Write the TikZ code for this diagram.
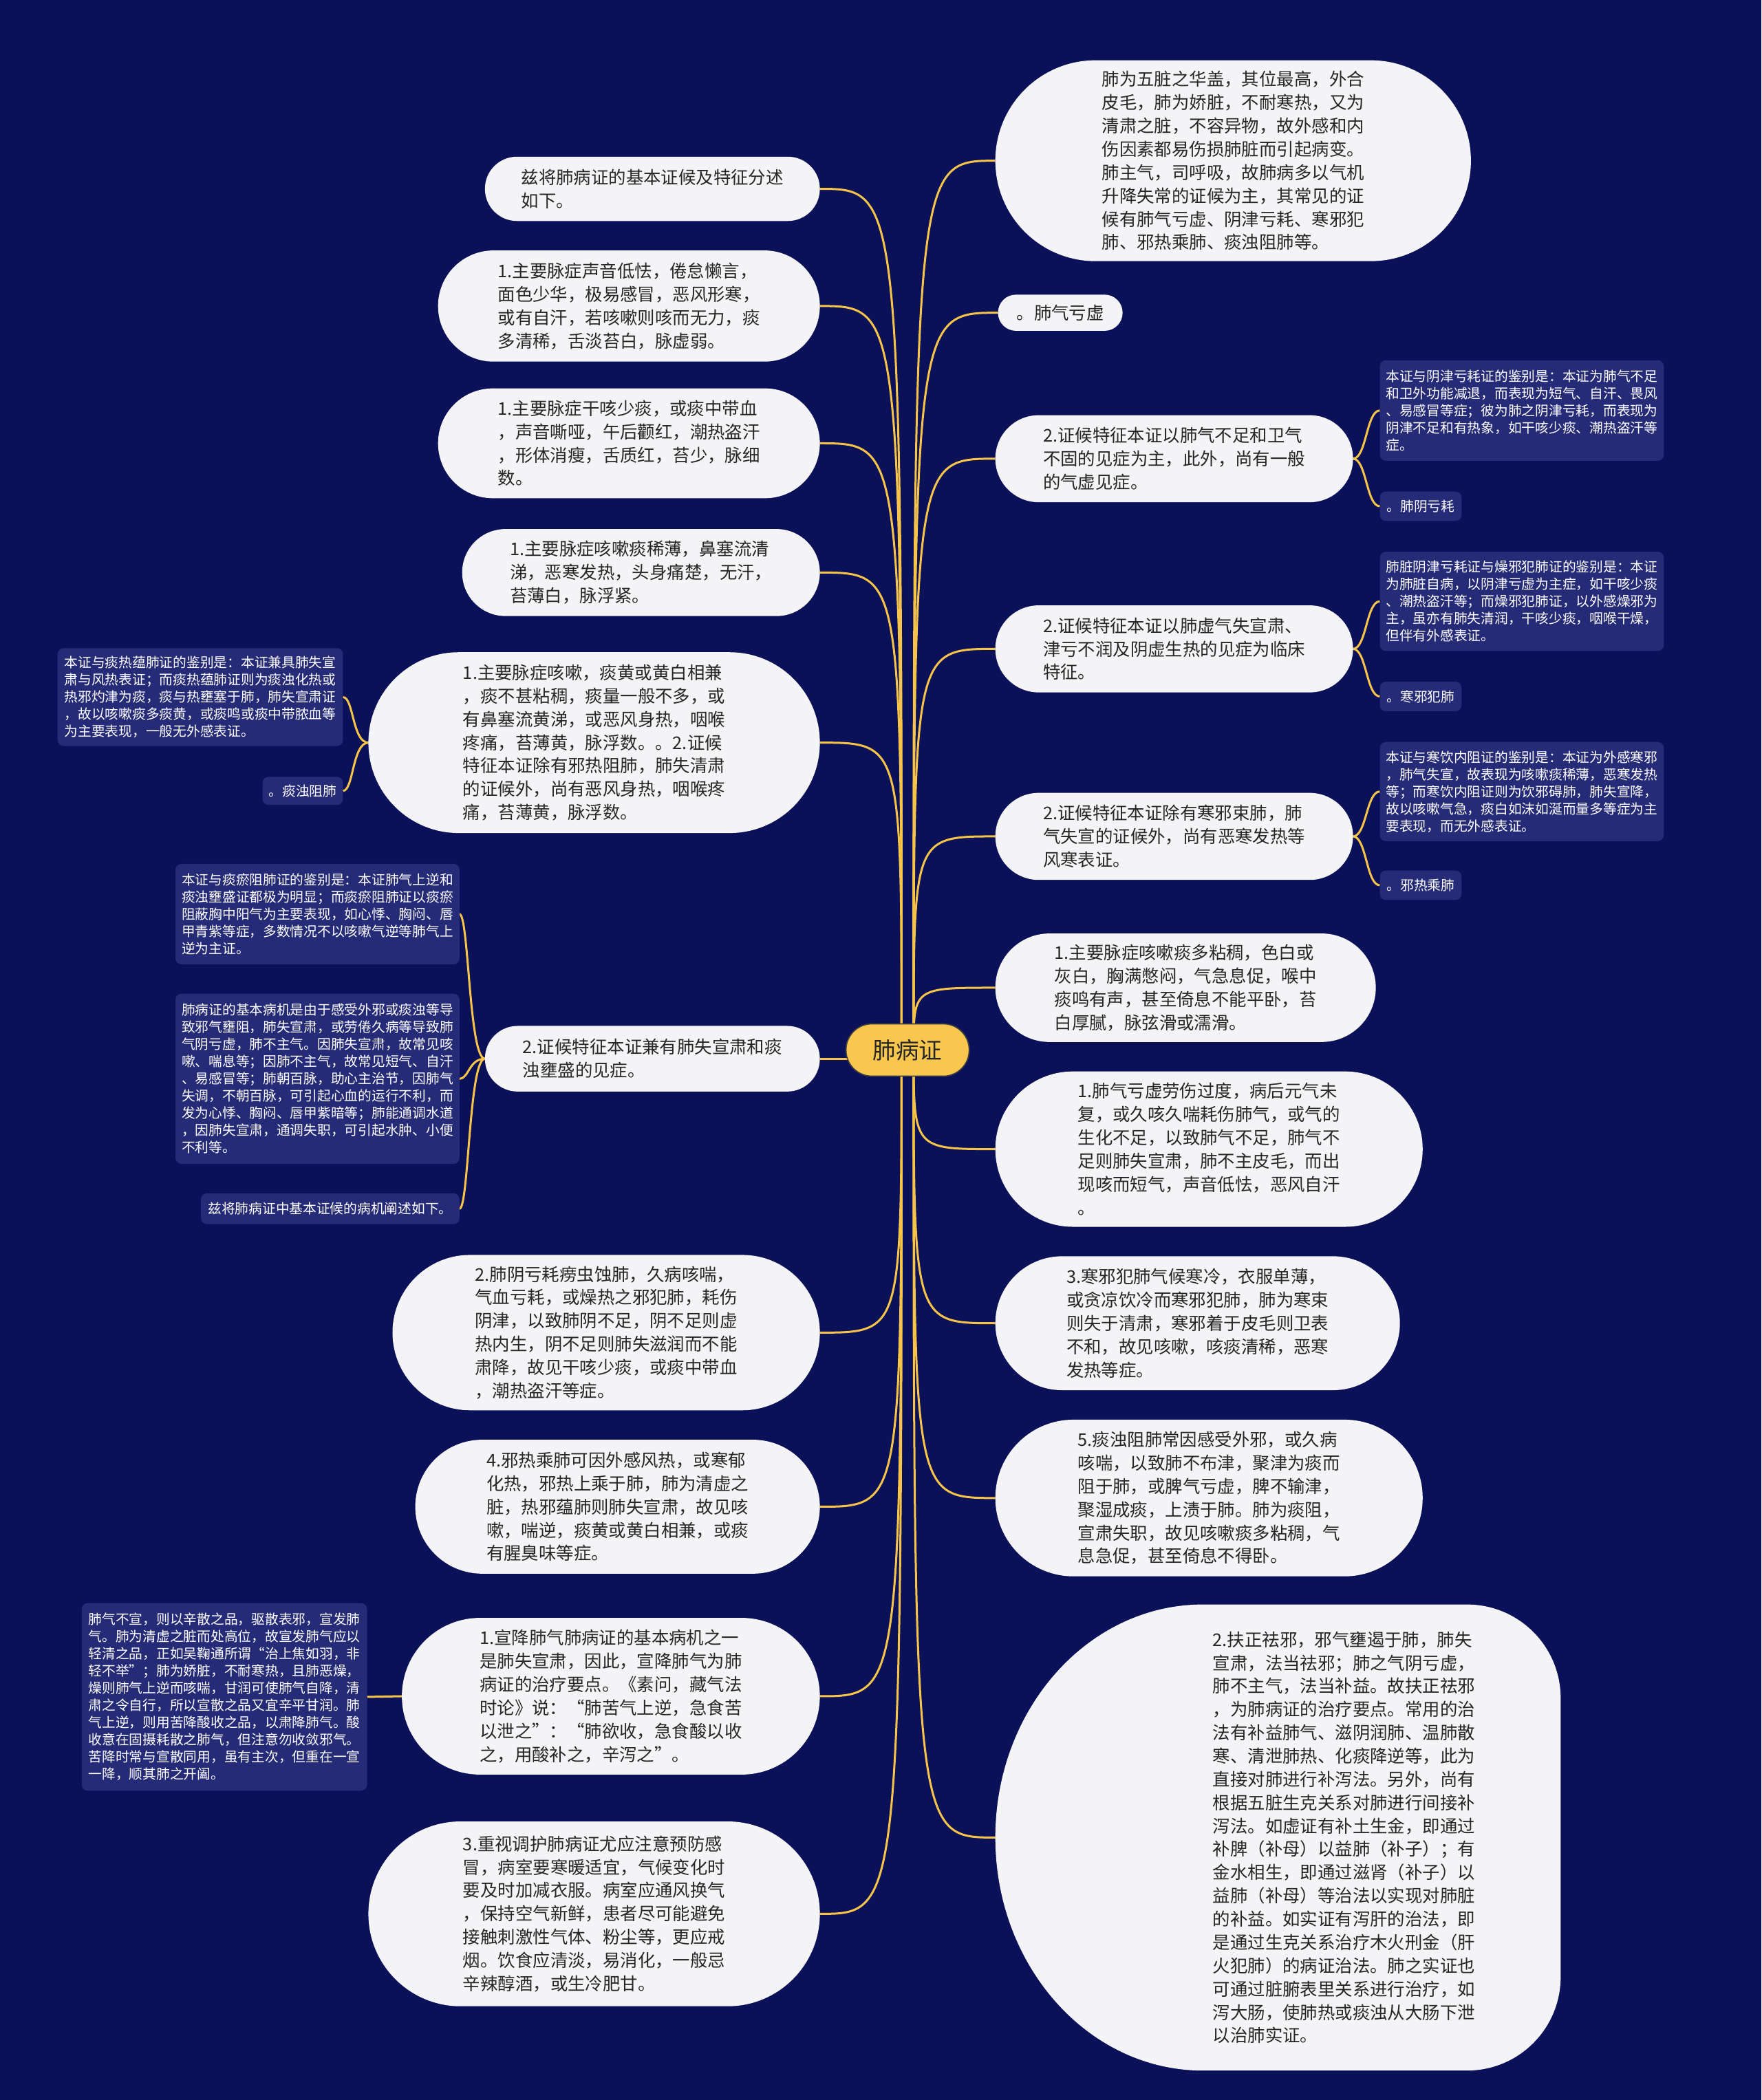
\documentclass[tikz,border=0pt]{standalone}
\usepackage{fontspec}
\newfontfamily\cjk{Noto Sans CJK SC}
\usetikzlibrary{calc}
\definecolor{bgnavy}{RGB}{11,17,88}
\definecolor{bubfill}{RGB}{244,244,246}
\definecolor{bubtext}{RGB}{38,38,38}
\definecolor{dkfill}{RGB}{38,43,120}
\definecolor{gold}{RGB}{245,196,72}
\definecolor{rootfill}{RGB}{250,199,78}
\pgfdeclarelayer{bg}
\pgfsetlayers{bg,main}
\newcommand\bigf{\cjk\fontsize{7.62pt}{10.16pt}\selectfont}
\newcommand\smf{\cjk\fontsize{5.92pt}{7.5pt}\selectfont}
\newcommand\rootf{\cjk\fontsize{10.1pt}{12pt}\selectfont}
\tikzset{
  bigbox/.style={rectangle, fill=bubfill, inner sep=0pt, outer sep=0pt},
  dkbox/.style={rectangle, fill=dkfill, inner sep=0pt, outer sep=0pt, rounded corners=2.6pt},
  bigtext/.style={inner sep=0pt, align=left, font=\bigf, text=bubtext},
  smtext/.style={inner sep=0pt, align=left, font=\smf, text=white},
  link/.style={draw=gold, line width=0.9pt},
  rootnode/.style={rectangle, fill=rootfill, draw=black!75, line width=0.5pt,
    minimum width=53.7pt, minimum height=22.8pt, rounded corners=11.3pt,
    inner sep=0pt, font=\rootf, text=bubtext}
}
% #1 text style, #2 name, #3 x1, #4 y1, #5 x2, #6 y2, #7 text
\newcommand\bub[7]{%
  \pgfmathsetmacro\mybw{(#5-#3)*0.584}%
  \pgfmathsetmacro\mybh{(#6-#4)*0.584}%
  \pgfmathsetmacro\mybr{min(\mybw,\mybh)/2-0.05}%
  \node[bigbox, minimum width=\mybw pt, minimum height=\mybh pt, rounded corners=\mybr pt] (#2) at ({(#3+#5)/2},{(#4+#6)/2}) {};
  \node[#1] (#2t) at (#2.center) {#7};
}
% #1 name, #2 x1, #3 y1, #4 x2, #5 y2, #6 text
\newcommand\dkb[6]{%
  \pgfmathsetmacro\mybw{(#4-#2)*0.584}%
  \pgfmathsetmacro\mybh{(#5-#3)*0.584}%
  \node[dkbox, minimum width=\mybw pt, minimum height=\mybh pt] (#1) at ({(#2+#4)/2},{(#3+#5)/2}) {};
  \node[smtext] (#1t) at (#1.center) {#6};
}
\begin{document}
\begin{tikzpicture}[x=0.584pt,y=-0.584pt]
\useasboundingbox (0,0) rectangle (1315,1568);

% ---------- root ----------
\node[rootnode] (root) at (677.5,784) {肺病证};

% ---------- right side ----------
\bub{bigtext}{R1}{743}{45}{1098}{195}{肺为五脏之华盖，其位最高，外合\\皮毛，肺为娇脏，不耐寒热，又为\\清肃之脏，不容异物，故外感和内\\伤因素都易伤损肺脏而引起病变。\\肺主气，司呼吸，故肺病多以气机\\升降失常的证候为主，其常见的证\\候有肺气亏虚、阴津亏耗、寒邪犯\\肺、邪热乘肺、痰浊阻肺等。}
\bub{bigtext}{R2}{745}{220}{838}{247}{。肺气亏虚}
\bub{bigtext}{R3}{743}{310}{1010}{375}{2.证候特征本证以肺气不足和卫气\\不固的见症为主，此外，尚有一般\\的气虚见症。}
\dkb{R3a}{1030}{269}{1242}{344}{本证与阴津亏耗证的鉴别是：本证为肺气不足\\和卫外功能减退，而表现为短气、自汗、畏风\\、易感冒等症；彼为肺之阴津亏耗，而表现为\\阴津不足和有热象，如干咳少痰、潮热盗汗等\\症。}
\dkb{R3b}{1030}{367}{1091}{389}{。肺阴亏耗}
\bub{bigtext}{R4}{743}{452}{1010}{517}{2.证候特征本证以肺虚气失宣肃、\\津亏不润及阴虚生热的见症为临床\\特征。}
\dkb{R4a}{1030}{412}{1242}{486}{肺脏阴津亏耗证与燥邪犯肺证的鉴别是：本证\\为肺脏自病，以阴津亏虚为主症，如干咳少痰\\、潮热盗汗等；而燥邪犯肺证，以外感燥邪为\\主，虽亦有肺失清润，干咳少痰，咽喉干燥，\\但伴有外感表证。}
\dkb{R4b}{1030}{509}{1091}{531}{。寒邪犯肺}
\bub{bigtext}{R5}{743}{592}{1010}{657}{2.证候特征本证除有寒邪束肺，肺\\气失宣的证候外，尚有恶寒发热等\\风寒表证。}
\dkb{R5a}{1030}{554}{1242}{628}{本证与寒饮内阻证的鉴别是：本证为外感寒邪\\，肺气失宣，故表现为咳嗽痰稀薄，恶寒发热\\等；而寒饮内阻证则为饮邪碍肺，肺失宣降，\\故以咳嗽气急，痰白如沫如涎而量多等症为主\\要表现，而无外感表证。}
\dkb{R5b}{1030}{650}{1091}{672}{。邪热乘肺}
\bub{bigtext}{R6}{743}{697}{1027}{778}{1.主要脉症咳嗽痰多粘稠，色白或\\灰白，胸满憋闷，气急息促，喉中\\痰鸣有声，甚至倚息不能平卧，苔\\白厚腻，脉弦滑或濡滑。}
\bub{bigtext}{R7}{743}{800}{1062}{916}{1.肺气亏虚劳伤过度，病后元气未\\复，或久咳久喘耗伤肺气，或气的\\生化不足，以致肺气不足，肺气不\\足则肺失宣肃，肺不主皮毛，而出\\现咳而短气，声音低怯，恶风自汗\\。}
\bub{bigtext}{R8}{743}{938}{1045}{1038}{3.寒邪犯肺气候寒冷，衣服单薄，\\或贪凉饮冷而寒邪犯肺，肺为寒束\\则失于清肃，寒邪着于皮毛则卫表\\不和，故见咳嗽，咳痰清稀，恶寒\\发热等症。}
\bub{bigtext}{R9}{743}{1060}{1062}{1177}{5.痰浊阻肺常因感受外邪，或久病\\咳喘，以致肺不布津，聚津为痰而\\阻于肺，或脾气亏虚，脾不输津，\\聚湿成痰，上渍于肺。肺为痰阻，\\宣肃失职，故见咳嗽痰多粘稠，气\\息急促，甚至倚息不得卧。}
% big asymmetric bubble
\node[rectangle, minimum width=246.4pt, minimum height=203.2pt, inner sep=0pt, outer sep=0pt] (R10) at (954,1372) {};
\fill[bubfill] (898,1198) .. controls (812.4,1198) and (743,1275.9) .. (743,1372)
  .. controls (743,1468.1) and (812.4,1546) .. (898,1546)
  -- (1095,1546) .. controls (1133.7,1546) and (1165,1514.7) .. (1165,1476)
  -- (1165,1268) .. controls (1165,1229.3) and (1133.7,1198) .. (1095,1198) -- cycle;
\node[bigtext, anchor=west] (R10t) at (905,1372) {2.扶正祛邪，邪气壅遏于肺，肺失\\宣肃，法当祛邪；肺之气阴亏虚，\\肺不主气，法当补益。故扶正祛邪\\，为肺病证的治疗要点。常用的治\\法有补益肺气、滋阴润肺、温肺散\\寒、清泄肺热、化痰降逆等，此为\\直接对肺进行补泻法。另外，尚有\\根据五脏生克关系对肺进行间接补\\泻法。如虚证有补土生金，即通过\\补脾（补母）以益肺（补子）；有\\金水相生，即通过滋肾（补子）以\\益肺（补母）等治法以实现对肺脏\\的补益。如实证有泻肝的治法，即\\是通过生克关系治疗木火刑金（肝\\火犯肺）的病证治法。肺之实证也\\可通过脏腑表里关系进行治疗，如\\泻大肠，使肺热或痰浊从大肠下泄\\以治肺实证。};

% ---------- left side ----------
\bub{bigtext}{L1}{362}{117}{612}{165}{兹将肺病证的基本证候及特征分述\\如下。}
\bub{bigtext}{L2}{327}{187}{612}{270}{1.主要脉症声音低怯，倦怠懒言，\\面色少华，极易感冒，恶风形寒，\\或有自汗，若咳嗽则咳而无力，痰\\多清稀，舌淡苔白，脉虚弱。}
\bub{bigtext}{L3}{327}{290}{612}{372}{1.主要脉症干咳少痰，或痰中带血\\，声音嘶哑，午后颧红，潮热盗汗\\，形体消瘦，舌质红，苔少，脉细\\数。}
\bub{bigtext}{L4}{345}{395}{612}{460}{1.主要脉症咳嗽痰稀薄，鼻塞流清\\涕，恶寒发热，头身痛楚，无汗，\\苔薄白，脉浮紧。}
\bub{bigtext}{L5}{275}{487}{612}{622}{1.主要脉症咳嗽，痰黄或黄白相兼\\，痰不甚粘稠，痰量一般不多，或\\有鼻塞流黄涕，或恶风身热，咽喉\\疼痛，苔薄黄，脉浮数。。2.证候\\特征本证除有邪热阻肺，肺失清肃\\的证候外，尚有恶风身热，咽喉疼\\痛，苔薄黄，脉浮数。}
\dkb{L5a}{43}{484}{256}{557}{本证与痰热蕴肺证的鉴别是：本证兼具肺失宣\\肃与风热表证；而痰热蕴肺证则为痰浊化热或\\热邪灼津为痰，痰与热壅塞于肺，肺失宣肃证\\，故以咳嗽痰多痰黄，或痰鸣或痰中带脓血等\\为主要表现，一般无外感表证。}
\dkb{L5b}{196}{580}{256}{601}{。痰浊阻肺}
\bub{bigtext}{L6}{362}{766}{612}{815}{2.证候特征本证兼有肺失宣肃和痰\\浊壅盛的见症。}
\dkb{L6a}{131}{645}{343}{720}{本证与痰瘀阻肺证的鉴别是：本证肺气上逆和\\痰浊壅盛证都极为明显；而痰瘀阻肺证以痰瘀\\阻蔽胸中阳气为主要表现，如心悸、胸闷、唇\\甲青紫等症，多数情况不以咳嗽气逆等肺气上\\逆为主证。}
\dkb{L6b}{131}{742}{343}{869}{肺病证的基本病机是由于感受外邪或痰浊等导\\致邪气壅阻，肺失宣肃，或劳倦久病等导致肺\\气阴亏虚，肺不主气。因肺失宣肃，故常见咳\\嗽、喘息等；因肺不主气，故常见短气、自汗\\、易感冒等；肺朝百脉，助心主治节，因肺气\\失调，不朝百脉，可引起心血的运行不利，而\\发为心悸、胸闷、唇甲紫暗等；肺能通调水道\\，因肺失宣肃，通调失职，可引起水肿、小便\\不利等。}
\dkb{L6c}{150}{891}{343}{914}{兹将肺病证中基本证候的病机阐述如下。}
\bub{bigtext}{L7}{293}{937}{612}{1053}{2.肺阴亏耗痨虫蚀肺，久病咳喘，\\气血亏耗，或燥热之邪犯肺，耗伤\\阴津，以致肺阴不足，阴不足则虚\\热内生，阴不足则肺失滋润而不能\\肃降，故见干咳少痰，或痰中带血\\，潮热盗汗等症。}
\bub{bigtext}{L8}{310}{1075}{612}{1175}{4.邪热乘肺可因外感风热，或寒郁\\化热，邪热上乘于肺，肺为清虚之\\脏，热邪蕴肺则肺失宣肃，故见咳\\嗽，喘逆，痰黄或黄白相兼，或痰\\有腥臭味等症。}
\bub{bigtext}{L9}{300}{1208}{612}{1325}{1.宣降肺气肺病证的基本病机之一\\是肺失宣肃，因此，宣降肺气为肺\\病证的治疗要点。《素问，藏气法\\时论》说：“肺苦气上逆，急食苦\\以泄之”：“肺欲收，急食酸以收\\之，用酸补之，辛泻之”。}
\dkb{L9a}{61}{1197}{274}{1337}{肺气不宣，则以辛散之品，驱散表邪，宣发肺\\气。肺为清虚之脏而处高位，故宣发肺气应以\\轻清之品，正如吴鞠通所谓“治上焦如羽，非\\轻不举”；肺为娇脏，不耐寒热，且肺恶燥，\\燥则肺气上逆而咳喘，甘润可使肺气自降，清\\肃之令自行，所以宣散之品又宜辛平甘润。肺\\气上逆，则用苦降酸收之品，以肃降肺气。酸\\收意在固摄耗散之肺气，但注意勿收敛邪气。\\苦降时常与宣散同用，虽有主次，但重在一宣\\一降，顺其肺之开阖。}
\bub{bigtext}{L10}{275}{1360}{612}{1498}{3.重视调护肺病证尤应注意预防感\\冒，病室要寒暖适宜，气候变化时\\要及时加减衣服。病室应通风换气\\，保持空气新鲜，患者尽可能避免\\接触刺激性气体、粉尘等，更应戒\\烟。饮食应清淡，易消化，一般忌\\辛辣醇酒，或生冷肥甘。}

% ---------- background and connectors ----------
\begin{pgfonlayer}{bg}
\fill[bgnavy] (0,0) rectangle (1315,1568);
\coordinate (rs) at (682,784);
\coordinate (ls) at (673,784);
\foreach \n in {R1,R2,R3,R4,R5,R6,R7,R8,R9,R10}{
  \draw[link] (rs) .. controls (rs |- \n.west) .. (\n.west);
}
\foreach \n in {L1,L2,L3,L4,L5,L7,L8,L9,L10}{
  \draw[link] (ls) .. controls (ls |- \n.east) .. (\n.east);
}
\draw[link] (ls |- L6.east) -- (L6.east);
\foreach \p/\c in {R3/R3a,R3/R3b,R4/R4a,R4/R4b,R5/R5a,R5/R5b}{
  \draw[link] (\p.east) .. controls +(10,0) and +(-10,0) .. (\c.west);
}
\foreach \c in {L5a,L5b}{
  \draw[link] (L5.west) .. controls +(-12,0) and +(8,0) .. (\c.east);
}
\foreach \c in {L6a,L6b,L6c}{
  \draw[link] (L6.west) .. controls +(-12,0) and +(7,0) .. (\c.east);
}
\draw[link] (L9.west) -- (L9a.east);
\end{pgfonlayer}
\end{tikzpicture}
\end{document}
